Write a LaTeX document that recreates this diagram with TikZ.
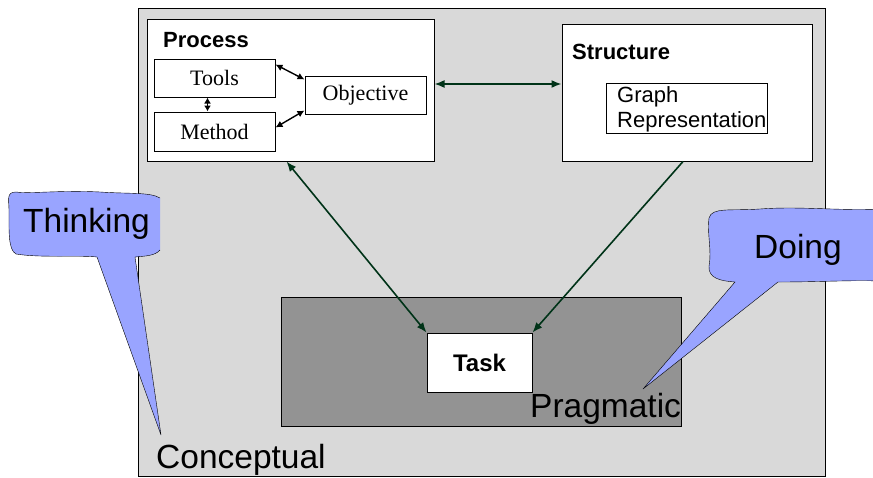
\documentclass[tikz,border=0pt]{standalone}
\usepackage{fontspec}
\setmainfont{Liberation Sans}
\newfontfamily\timesfont{Liberation Serif}
\usetikzlibrary{arrows.meta}
\definecolor{paneGray}{HTML}{D9D9D9}
\definecolor{taskGray}{HTML}{939393}
\definecolor{bubbleBlue}{HTML}{99A4FF}
\definecolor{arrowGreen}{HTML}{003318}

\begin{document}
\begin{tikzpicture}[x=1pt, y=-1pt,
  box/.style={draw, fill=white, line width=1pt, inner sep=0pt},
  serifbox/.style={box, minimum width=121pt, minimum height=38pt, font=\timesfont\fontsize{22}{25}\selectfont},
  small/.style={font=\fontsize{22}{25}\selectfont},
  big/.style={font=\fontsize{33.5}{38}\selectfont},
  tag/.style={anchor=base west, inner sep=0pt},
  link/.style={draw=arrowGreen, line width=1.6pt, >={Latex[length=10pt,width=8pt]}},
  pair/.style={line width=1.4pt, >={Latex[length=7pt,width=7pt]}}]

  \useasboundingbox (0,0) rectangle (873,477);

  % panes
  \draw[fill=paneGray] (138,8) rectangle (825,476);
  \draw[fill=taskGray] (281,297) rectangle (681,426);

  % Process
  \node (process) at (290.5,90) [box, minimum width=287pt, minimum height=142pt] {};
  \node at (163,47) [tag, small] {\bfseries Process};
  \node (tools) at (214.5,78) [serifbox] {Tools};
  \node (method) at (214.5,131.5) [serifbox, minimum height=39pt] {Method};
  \node (objective) at (365.5,95) [serifbox] {Objective};
  \draw[pair, <->] ([yshift=-6pt]tools.north east) -- ([yshift=-4pt]objective.north west);
  \draw[pair, <->] ([yshift=4pt]method.east) -- ([yshift=4pt]objective.south west);
  \draw[pair, <->, >={Latex[length=6pt,width=7pt]}] ([xshift=-7pt]tools.south) -- ([xshift=-7pt]method.north);

  % Structure
  \node (structure) at (687,92.5) [box, minimum width=250pt, minimum height=137pt] {};
  \node at (572,59) [tag, small] {\bfseries Structure};
  \node (graph) at (686.5,108) [box, minimum width=161pt, minimum height=50pt] {};
  \node at (617,127) [tag, small, align=left] {Graph\\Representation};

  % Task
  \node (task) at (479.5,362.5) [box, minimum width=105pt, minimum height=59pt, font=\fontsize{24}{28}\selectfont\bfseries] {Task};

  \draw[link, <->] ([yshift=6pt]process.east) -- ([yshift=8.5pt]structure.west);
  \draw[link, <->] ([xshift=-4pt]process.south) -- (task.north west);
  \draw[link, ->] ([xshift=-4pt]structure.south) -- (task.north east);

  % Thinking
  \fill[bubbleBlue] (160,198) .. controls (150,192) and (130,194) .. (100,192)
    .. controls (60,190) and (30,194) .. (16,192) .. controls (6,192) and (9,200) .. (9,210)
    .. controls (9,230) and (8,250) .. (16,254) .. controls (40,258) and (80,255) .. (97,257)
    -- (161,435) -- (135,257) .. controls (145,256) and (155,256) .. (160,250) -- cycle;
  \draw (160,198) .. controls (150,192) and (130,194) .. (100,192)
    .. controls (60,190) and (30,194) .. (16,192) .. controls (6,192) and (9,200) .. (9,210)
    .. controls (9,230) and (8,250) .. (16,254) .. controls (40,258) and (80,255) .. (97,257)
    -- (161,435) -- (135,257) .. controls (145,256) and (155,256) .. (160,250);
  \node at (23,232) [tag, big] {Thinking};

  % Doing
  \draw[fill=bubbleBlue] (880,209) .. controls (840,211) and (800,206) .. (760,209)
    .. controls (730,211) and (712,207) .. (709,218) .. controls (707,235) and (712,250) .. (709,266)
    .. controls (708,278) and (720,281) .. (735,282) -- (643,389) -- (778,282)
    .. controls (820,282) and (850,280) .. (880,281) -- cycle;
  \node at (754,258) [tag, big] {Doing};

  \node at (530,417) [tag, big] {Pragmatic};
  \node at (156,468) [tag, big] {Conceptual};

\end{tikzpicture}
\end{document}
